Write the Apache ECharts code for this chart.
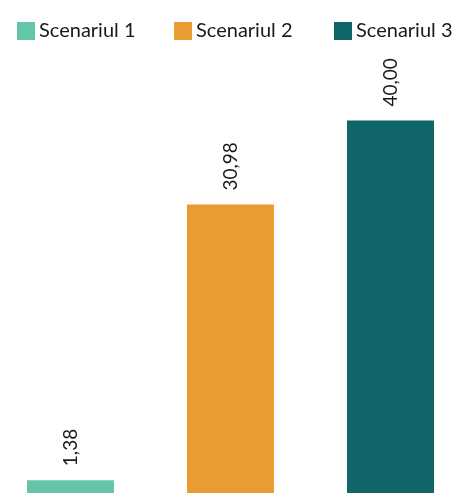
<!DOCTYPE html>
<html><head><meta charset="utf-8">
<script src="https://cdn.jsdelivr.net/npm/echarts@6/dist/echarts.min.js"></script>
<style>html,body{margin:0;padding:0;background:#fff}#c{width:458px;height:493px}</style>
</head><body><div id="c"></div>
<script>
const categories = ['Scenariul 1', 'Scenariul 2', 'Scenariul 3'];
const values = [1.38, 30.98, 40.00];
const colors = ['#64C5A8', '#E99C31', '#0F6567'];
const legendLeft = [12, 169, 329];

const chart = echarts.init(document.getElementById('c'), null, {renderer: 'canvas'});
const series = categories.map((name, i) => ({
  name: name,
  type: 'bar',
  barWidth: 87,
  barGap: '-100%',
  itemStyle: {color: colors[i]},
  data: [[i, values[i]]],
  label: {
    show: true,
    position: 'top',
    rotate: 90,
    align: 'left',
    verticalAlign: 'middle',
    distance: 14,
    fontFamily: 'Lato',
    fontSize: 19,
    color: '#1a1a1a',
    formatter: p => p.value[1].toFixed(2).replace('.', ',')
  }
}));
chart.setOption({
  animation: false,
  legend: categories.map((name, i) => ({
    data: [name],
    left: legendLeft[i], top: 16,
    itemWidth: 18, itemHeight: 18,
    icon: 'rect',
    textStyle: {fontFamily: 'Lato', fontSize: 20, color: '#1a1a1a', padding: [0, 0, 0, -1]}
  })),
  grid: {left: 0, right: 0, top: 74, bottom: 0, containLabel: false},
  xAxis: {type: 'value', min: -70.5 / 160, max: (458 - 70.5) / 160, show: false},
  yAxis: {type: 'value', min: 0, max: 45, show: false},
  series: series
});
</script></body></html>
